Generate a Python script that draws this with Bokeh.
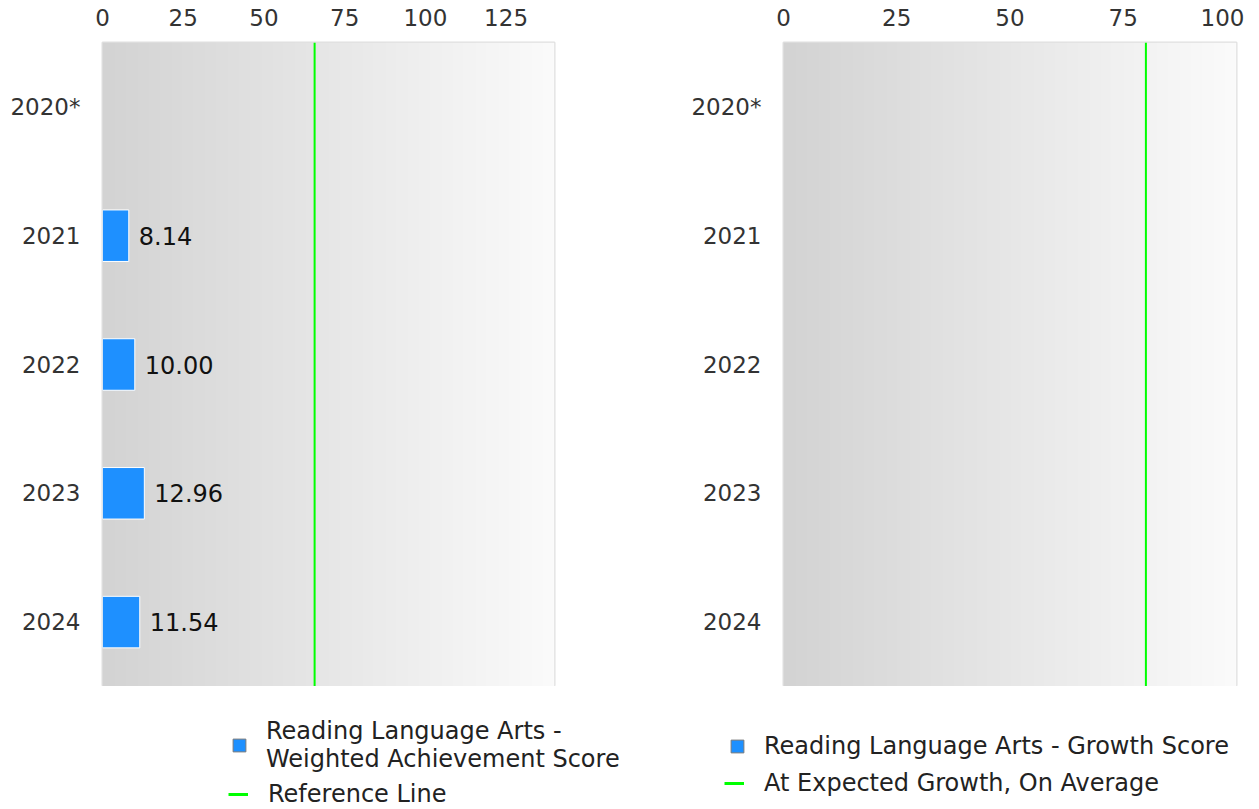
import numpy as np
from bokeh.plotting import figure
from bokeh.models import FactorRange, Range1d, Legend, LegendItem, FixedTicker, Span
from bokeh.layouts import row, column
from bokeh.embed import file_html
from bokeh.resources import INLINE
from bokeh.core.properties import value

# ---------------- data ----------------
years = ["2020*", "2021", "2022", "2023", "2024"]
achievement = [np.nan, 8.14, 10.00, 12.96, 11.54]
achievement_text = ["", "8.14", "10.00", "12.96", "11.54"]
growth = [np.nan, np.nan, np.nan, np.nan, np.nan]
left_ticks = [0, 25, 50, 75, 100, 125]
right_ticks = [0, 25, 50, 75, 100]
left_xmax = 140
right_xmax = 100
reference_value = 65.7
expected_growth_value = 80
left_series_label = "Reading Language Arts -\nWeighted Achievement Score"
left_line_label = "Reference Line"
right_series_label = "Reading Language Arts - Growth Score"
right_line_label = "At Expected Growth, On Average"

# ---------------- style ----------------
FONT = "DejaVu Sans"
FS = "23px"
LFS = "24px"
BAR_COLOR = "#1e90ff"
LINE_COLOR = "#00ff00"
TEXT_COLOR = "#333333"
TOP = 42
FRAME_H = 644
LEG_H = 122
W1, W2 = 640, 604


def gradient_image():
    n = 256
    img = np.zeros((1, n), dtype=np.uint32)
    v = img.view(dtype=np.uint8).reshape((1, n, 4))
    shade = np.linspace(211, 251, n).astype(np.uint8)
    v[0, :, 0] = shade
    v[0, :, 1] = shade
    v[0, :, 2] = shade
    v[0, :, 3] = 255
    return img


def make_fig(width, bl, br, xmax, ticks):
    p = figure(width=width, height=TOP + FRAME_H,
               y_range=FactorRange(*reversed(years)),
               x_range=Range1d(0, xmax),
               x_axis_location="above",
               output_backend="svg", toolbar_location=None,
               min_border_left=bl, min_border_right=br,
               min_border_top=TOP, min_border_bottom=0)
    p.outline_line_color = "#e0e0e0"
    p.outline_line_width = 2
    p.background_fill_color = "white"
    p.border_fill_color = "white"
    p.xgrid.grid_line_color = None
    p.ygrid.grid_line_color = None
    for ax in (p.xaxis[0], p.yaxis[0]):
        ax.axis_line_color = None
        ax.major_tick_line_color = None
        ax.minor_tick_line_color = None
        ax.major_label_text_font = FONT
        ax.major_label_text_font_size = FS
        ax.major_label_text_color = TEXT_COLOR
    p.xaxis[0].ticker = FixedTicker(ticks=ticks)
    p.xaxis[0].major_label_standoff = 11
    p.yaxis[0].major_label_standoff = 16
    p.image_rgba(image=[gradient_image()], x=0, y=0, dw=xmax, dh=len(years))
    return p


def legend_fig(width, loc_a, loc_b, bar_label, line_label):
    q = figure(width=width, height=LEG_H, x_range=Range1d(0, 1), y_range=Range1d(0, 1),
               output_backend="svg", toolbar_location=None,
               min_border=0, min_border_left=0, min_border_right=0,
               min_border_top=0, min_border_bottom=0)
    q.axis.visible = False
    q.grid.visible = False
    q.outline_line_color = None
    q.background_fill_color = "white"
    q.border_fill_color = "white"
    # legend-only renderers (no visible data)
    bar_r = q.hbar(y=[np.nan], right=[np.nan], left=0, height=0.4,
                   fill_color=BAR_COLOR, line_color="#7a7a7a", line_width=1)
    line_r = q.line(x=[np.nan], y=[np.nan], line_color=LINE_COLOR, line_width=3)
    common = dict(label_text_font=FONT, label_text_font_size=LFS,
                  label_text_color="#222222", label_text_line_height=0.75,
                  border_line_color=None, background_fill_alpha=0,
                  padding=0, margin=0, spacing=0)
    la = Legend(items=[LegendItem(label=bar_label, renderers=[bar_r])],
                location=loc_a, glyph_width=16, glyph_height=16,
                label_standoff=19, **common)
    lb = Legend(items=[LegendItem(label=line_label, renderers=[line_r])],
                location=loc_b, glyph_width=20, glyph_height=14,
                label_standoff=20, **common)
    q.add_layout(la, "center")
    q.add_layout(lb, "center")
    return q


# ---------------- left chart ----------------
p1 = make_fig(W1, 102, 86, left_xmax, left_ticks)
p1.hbar(y=years, right=achievement, left=0, height=0.4,
        fill_color=BAR_COLOR, line_color="white", line_width=1)
p1.text(x=achievement, y=years, text=achievement_text, x_offset=10,
        text_baseline="middle", text_align="left",
        text_font=value(FONT), text_font_size=LFS, text_color="#111111")
p1.add_layout(Span(location=reference_value, dimension="height",
                   line_color=LINE_COLOR, line_width=2))
q1 = legend_fig(W1, (231, 35), (228, 0), left_series_label, left_line_label)

# ---------------- right chart ----------------
p2 = make_fig(W2, 143, 8, right_xmax, right_ticks)
p2.hbar(y=years, right=growth, left=0, height=0.4,
        fill_color=BAR_COLOR, line_color="white", line_width=1)
p2.add_layout(Span(location=expected_growth_value, dimension="height",
                   line_color=LINE_COLOR, line_width=2))
q2 = legend_fig(W2, (89, 48), (84, 11), right_series_label, right_line_label)

layout = column(row(p1, p2), row(q1, q2))
open("out.html", "w").write(file_html(layout, INLINE))
